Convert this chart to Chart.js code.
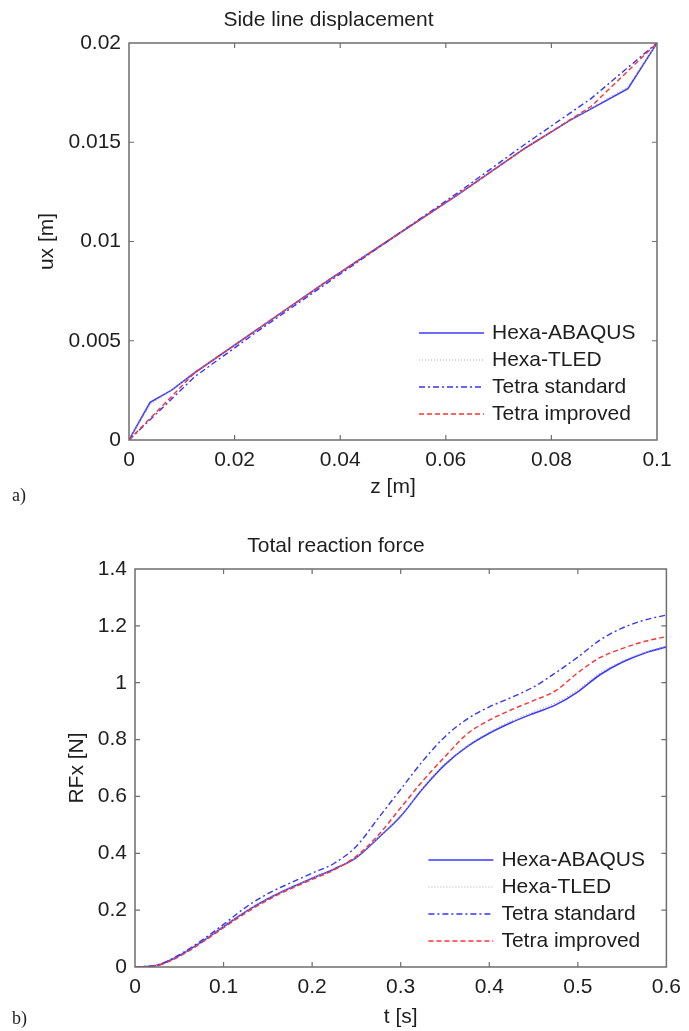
<!DOCTYPE html>
<html>
<head>
<meta charset="utf-8">
<script src="https://cdn.jsdelivr.net/npm/chart.js@4.4.1/dist/chart.umd.min.js"></script>
<style>
  body { margin: 0; background: #fff; }
  #wrap { position: relative; width: 689px; height: 1031px; background: #fff; overflow: hidden; }
  canvas { position: absolute; left: 0; }
  .lbl { position: absolute; font: 18px "Liberation Serif", "Times New Roman", serif; color: #222; line-height: 20px; }
</style>
</head>
<body>
<div id="wrap">
  <canvas id="chartA" width="689" height="505" style="top:0"></canvas>
  <canvas id="chartB" width="689" height="526" style="top:505px"></canvas>
  <div class="lbl" style="left:12px; top:485px">a)</div>
  <div class="lbl" style="left:12px; top:1008px">b)</div>
</div>
<script>
// --- a) side line displacement ---
var hexaZ        = [0, 0.004, 0.008, 0.0125, 0.025, 0.0375, 0.05, 0.0625, 0.075, 0.0835, 0.0945, 0.1];
var hexaAbaqusUx = [0, 0.0019, 0.0025, 0.0034, 0.0057, 0.0080, 0.0102, 0.0124, 0.0147, 0.0161, 0.0177, 0.02];
var hexaTledUx   = [0, 0.0018, 0.0025, 0.0034, 0.0057, 0.0080, 0.0102, 0.0124, 0.0147, 0.0161, 0.0178, 0.02];
var tetraZ       = [0, 0.0125, 0.025, 0.0375, 0.05, 0.0625, 0.075, 0.0875, 0.1];
var tetraStdUx   = [0, 0.0032, 0.0056, 0.0079, 0.0102, 0.0125, 0.0149, 0.0172, 0.02];
var tetraImpUx   = [0, 0.0034, 0.0057, 0.0080, 0.0102, 0.0124, 0.0147, 0.0168, 0.02];

// --- b) total reaction force ---
var times = [0, 0.025, 0.05, 0.075, 0.1, 0.125, 0.15, 0.175, 0.2, 0.225, 0.25, 0.275, 0.3,
             0.325, 0.35, 0.375, 0.4, 0.425, 0.45, 0.475, 0.5, 0.525, 0.55, 0.575, 0.6];
var hexaAbaqusRF = [0, 0.006, 0.040, 0.088, 0.142, 0.195, 0.240, 0.278, 0.312, 0.345, 0.385, 0.455, 0.530,
                    0.628, 0.712, 0.775, 0.822, 0.860, 0.892, 0.922, 0.968, 1.028, 1.072, 1.104, 1.126];
var hexaTledRF   = [0, 0.006, 0.040, 0.088, 0.143, 0.196, 0.241, 0.279, 0.313, 0.346, 0.386, 0.457, 0.533,
                    0.631, 0.715, 0.778, 0.826, 0.866, 0.898, 0.929, 0.975, 1.034, 1.076, 1.106, 1.128];
var tetraStdRF   = [0, 0.007, 0.043, 0.093, 0.150, 0.210, 0.258, 0.295, 0.330, 0.365, 0.425, 0.525, 0.625,
                    0.725, 0.810, 0.872, 0.915, 0.948, 0.985, 1.035, 1.090, 1.150, 1.192, 1.220, 1.238];
var tetraImpRF   = [0, 0.005, 0.037, 0.085, 0.138, 0.190, 0.236, 0.274, 0.308, 0.342, 0.390, 0.465, 0.560,
                    0.655, 0.740, 0.820, 0.868, 0.905, 0.937, 0.972, 1.035, 1.088, 1.120, 1.145, 1.162];

var seriesNames = ['Hexa-ABAQUS', 'Hexa-TLED', 'Tetra standard', 'Tetra improved'];

var FONT = '"Liberation Sans", Arial, sans-serif';
var TXT = '#1e1e1e';
var BOX = '#6e6e6e';

function pts(xs, ys) {
  return xs.map(function (x, i) { return {x: x, y: ys[i]}; });
}

function styles() {
  return [
    {borderColor: '#3a3aff', borderWidth: 1.6, borderDash: [], order: 3},
    {borderColor: '#a8a8a8', borderWidth: 1.2, borderDash: [1, 2], order: 2},
    {borderColor: '#3535ff', borderWidth: 1.4, borderDash: [6, 3, 2, 3], order: 1},
    {borderColor: '#ff3030', borderWidth: 1.4, borderDash: [5, 3], order: 0}
  ];
}

// matlab-like box with inward ticks + legend inside the axes
var boxPlugin = {
  id: 'matlabBox',
  afterDraw: function (chart) {
    var ctx = chart.ctx, a = chart.chartArea;
    var xs = chart.scales.x, ys = chart.scales.y;
    ctx.save();
    ctx.strokeStyle = BOX;
    ctx.lineWidth = 1.5;
    ctx.setLineDash([]);
    ctx.strokeRect(a.left, a.top, a.right - a.left, a.bottom - a.top);
    ctx.lineWidth = 1.2;
    ctx.beginPath();
    xs.ticks.forEach(function (t) {
      var px = xs.getPixelForValue(t.value);
      if (Math.abs(px - a.left) < 1 || Math.abs(px - a.right) < 1) return;
      ctx.moveTo(px, a.bottom); ctx.lineTo(px, a.bottom - 5);
      ctx.moveTo(px, a.top); ctx.lineTo(px, a.top + 5);
    });
    ys.ticks.forEach(function (t) {
      var py = ys.getPixelForValue(t.value);
      if (Math.abs(py - a.top) < 1 || Math.abs(py - a.bottom) < 1) return;
      ctx.moveTo(a.left, py); ctx.lineTo(a.left + 5, py);
      ctx.moveTo(a.right, py); ctx.lineTo(a.right - 5, py);
    });
    ctx.stroke();

    // legend
    ctx.font = '21px ' + FONT;
    ctx.textBaseline = 'middle';
    ctx.textAlign = 'left';
    chart.data.datasets.forEach(function (ds, i) {
      var y = a.bottom - 107 + i * 27;
      ctx.strokeStyle = ds.borderColor;
      ctx.lineWidth = ds.borderWidth;
      ctx.setLineDash(ds.borderDash);
      ctx.beginPath();
      ctx.moveTo(a.right - 238, y);
      ctx.lineTo(a.right - 173, y);
      ctx.stroke();
      ctx.setLineDash([]);
      ctx.fillStyle = TXT;
      ctx.fillText(ds.label, a.right - 165, y);
    });
    ctx.restore();
  }
};

function fmt(v) { return String(+v.toFixed(4)); }

function makeChart(id, cfg) {
  var ds = styles().map(function (s, i) {
    return Object.assign({
      label: seriesNames[i],
      data: cfg.data[i],
      pointRadius: 0,
      fill: false,
      tension: 0,
      cubicInterpolationMode: cfg.smooth ? 'monotone' : 'default'
    }, s);
  });
  return new Chart(document.getElementById(id), {
    type: 'line',
    data: {datasets: ds},
    plugins: [boxPlugin],
    options: {
      responsive: false,
      animation: false,
      devicePixelRatio: 1,
      layout: {padding: {top: 0, left: 0, right: cfg.padRight, bottom: 0}},
      plugins: {
        legend: {display: false},
        tooltip: {enabled: false},
        title: {
          display: true,
          text: cfg.title,
          color: TXT,
          font: {family: FONT, size: 21, weight: 'normal'},
          padding: {top: cfg.titleTop, bottom: 10.4}
        }
      },
      scales: {
        x: {
          type: 'linear',
          min: cfg.xMin, max: cfg.xMax,
          grid: {display: false, drawTicks: false},
          border: {display: false},
          ticks: {stepSize: cfg.xStep, padding: 8, color: TXT, font: {family: FONT, size: 21}, maxRotation: 0,
                  callback: fmt},
          title: {display: true, text: cfg.xTitle, color: TXT, font: {family: FONT, size: 21},
                  padding: {top: 0, bottom: cfg.xTitleBottom}},
          afterFit: function (s) { s.height = cfg.xHeight; }
        },
        y: {
          type: 'linear',
          min: cfg.yMin, max: cfg.yMax,
          grid: {display: false, drawTicks: false},
          border: {display: false},
          ticks: {stepSize: cfg.yStep, padding: 8, color: TXT, font: {family: FONT, size: 21},
                  callback: fmt},
          title: {display: true, text: cfg.yTitle, color: TXT, font: {family: FONT, size: 21},
                  padding: {top: cfg.yTitleLeft, bottom: 0}},
          afterFit: function (s) { s.width = cfg.yWidth; }
        }
      }
    }
  });
}

makeChart('chartA', {
  title: 'Side line displacement',
  data: [pts(hexaZ, hexaAbaqusUx), pts(hexaZ, hexaTledUx), pts(tetraZ, tetraStdUx), pts(tetraZ, tetraImpUx)],
  smooth: false,
  padRight: 32, titleTop: 7.4,
  xMin: 0, xMax: 0.1, xStep: 0.02, xTitle: 'z [m]', xTitleBottom: 5.4, xHeight: 65,
  yMin: 0, yMax: 0.02, yStep: 0.005, yTitle: 'ux [m]', yTitleLeft: 34.4, yWidth: 129
});

makeChart('chartB', {
  title: 'Total reaction force',
  data: [pts(times, hexaAbaqusRF), pts(times, hexaTledRF), pts(times, tetraStdRF), pts(times, tetraImpRF)],
  smooth: true,
  padRight: 17, titleTop: 28.4,
  xMin: 0, xMax: 0.6, xStep: 0.1, xTitle: 't [s]', xTitleBottom: 1.4, xHeight: 64,
  yMin: 0, yMax: 1.4, yStep: 0.2, yTitle: 'RFx [N]', yTitleLeft: 64.4, yWidth: 135
});
</script>
</body>
</html>
